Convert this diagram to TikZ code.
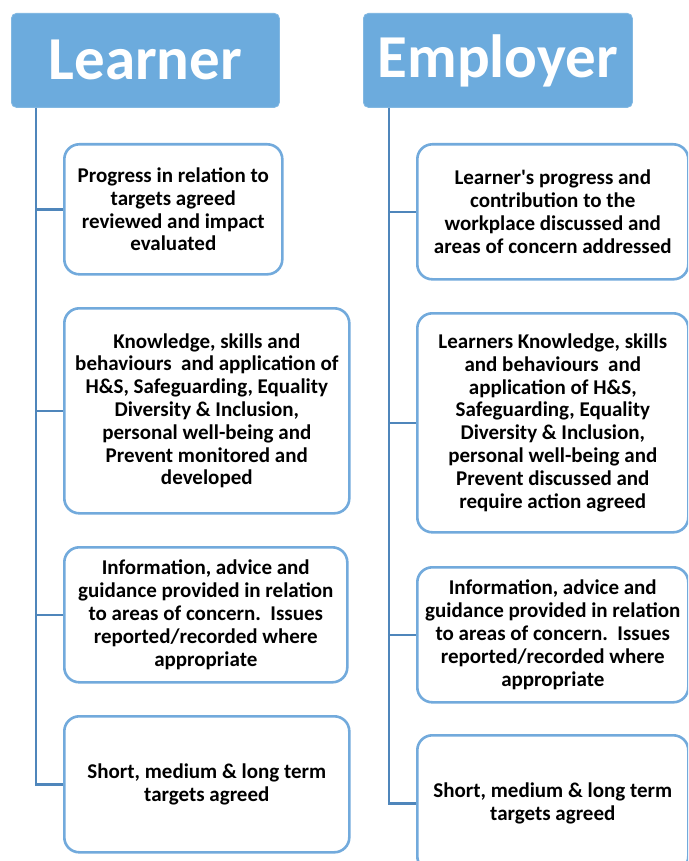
\documentclass[tikz,border=0pt]{standalone}
\usepackage{fontspec}
\setmainfont{Carlito}
\definecolor{headfill}{HTML}{6CABDD}
\definecolor{boxline}{HTML}{72AADC}
\definecolor{connline}{HTML}{4F86BB}
\tikzset{
  header/.style={fill=headfill, draw=headfill!85!white, line width=0.8pt, rounded corners=5pt,
    anchor=north west, inner sep=0pt, text=white,
    font=\fontsize{61}{66}\selectfont\bfseries},
  item/.style={draw=boxline, line width=2.6pt, fill=white, rounded corners=15pt,
    anchor=north west, inner sep=0pt, align=center, text=black,
    font=\fontsize{21}{22.8}\selectfont\bfseries},
  conn/.style={draw=connline, line width=2.6pt}
}
\begin{document}
\begin{tikzpicture}[x=1pt,y=-1pt]
\clip (0,0) rectangle (688,861);
\fill[white] (0,0) rectangle (688,861);

% column headers
\node[header, minimum width=268pt, minimum height=94pt] (lh) at (11,13) {\raisebox{-5.5pt}{Learner}};
\node[header, minimum width=269pt, minimum height=94pt] (eh) at (363,13) {\raisebox{-5.5pt}{Employer}};

% learner column
\node[item, minimum width=218pt, minimum height=130pt] (l1) at (63,143)
  {Progress in relation to\\targets agreed\\reviewed and impact\\evaluated};
\node[item, minimum width=285pt, minimum height=205pt] (l2) at (63,307)
  {Knowledge, skills and\\behaviours\ \ and application of\\H\&S, Safeguarding, Equality\\Diversity \& Inclusion,\\personal well-being and\\Prevent monitored and\\developed};
\node[item, minimum width=283pt, minimum height=135pt] (l3) at (63,546)
  {Information, advice and\\guidance provided in relation\\to areas of concern.\ \ Issues\\reported/recorded where\\appropriate};
\node[item, minimum width=285pt, minimum height=136pt] (l4) at (63,715)
  {Short, medium \& long term\\targets agreed};

% employer column
\node[item, minimum width=271pt, minimum height=135pt] (e1) at (416,143)
  {Learner\textquotesingle s progress and\\contribution to the\\workplace discussed and\\areas of concern addressed};
\node[item, minimum width=271pt, minimum height=219pt] (e2) at (416,312)
  {Learners Knowledge, skills\\and behaviours\ \ and\\application of H\&S,\\Safeguarding, Equality\\Diversity \& Inclusion,\\personal well-being and\\Prevent discussed and\\require action agreed};
\node[item, minimum width=271pt, minimum height=135pt] (e3) at (416,566)
  {Information, advice and\\guidance provided in relation\\to areas of concern.\ \ Issues\\reported/recorded where\\appropriate};
\node[item, minimum width=271pt, minimum height=136pt] (e4) at (416,734)
  {Short, medium \& long term\\targets agreed};

% tree connectors
\foreach \b in {l1,l2,l3,l4}
  \draw[conn] ([xshift=25pt]lh.south west) |- (\b.west);
\foreach \b in {e1,e2,e3,e4}
  \draw[conn] ([xshift=26pt]eh.south west) |- (\b.west);
\end{tikzpicture}
\end{document}
